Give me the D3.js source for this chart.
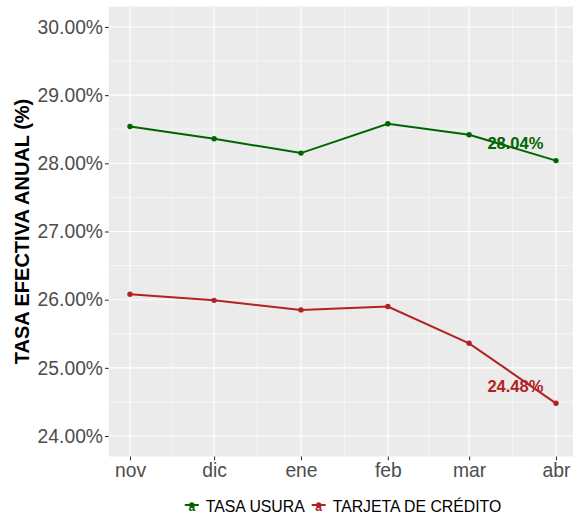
<!DOCTYPE html>
<html><head><meta charset="utf-8">
<script src="https://cdn.jsdelivr.net/npm/d3@7"></script>
<style>html,body{margin:0;padding:0;background:#fff;}svg{display:block;font-family:"Liberation Sans",Arial,sans-serif;}</style>
</head><body>
<svg id="c" width="573" height="518"></svg>
<script>
const months = ["2023-11-01","2023-12-01","2024-01-01","2024-02-01","2024-03-01","2024-04-01"];
const monthLabels = ["nov","dic","ene","feb","mar","abr"];
const tasaUsura = [28.54, 28.36, 28.15, 28.58, 28.42, 28.04];
const tarjetaCredito = [26.08, 25.99, 25.85, 25.90, 25.36, 24.48];
const yTicks = [24, 25, 26, 27, 28, 29, 30];
const seriesNames = ["TASA USURA", "TARJETA DE CRÉDITO"];
const seriesColors = ["#006400", "#B22222"];

const parse = d3.utcParse("%Y-%m-%d");
const dates = months.map(parse);
const svg = d3.select("#c");
const L = 108.7, R = 577.3, T = 6.5, B = 456.5;
const d0 = dates[0], d1 = dates[dates.length-1];
const span = d1 - d0;
const x = d3.scaleUtc().domain([new Date(+d0 - span*0.05), new Date(+d1 + span*0.05)]).range([L, R]);
const y = d3.scaleLinear().domain([23.7, 30.3]).range([B, T]);

svg.append("rect").attr("x", L).attr("y", T).attr("width", R-L).attr("height", B-T).attr("fill", "#EBEBEB");
const g = svg.append("g");
const minorX = d3.pairs(dates).map(([a,b]) => new Date((+a + +b)/2));
const minorY = d3.pairs(yTicks).map(([a,b]) => (a+b)/2);
g.selectAll(".mx").data(minorX).join("line").attr("x1", d=>x(d)).attr("x2", d=>x(d)).attr("y1", T).attr("y2", B).attr("stroke", "#fff").attr("stroke-width", 0.55);
g.selectAll(".my").data(minorY).join("line").attr("y1", d=>y(d)).attr("y2", d=>y(d)).attr("x1", L).attr("x2", R).attr("stroke", "#fff").attr("stroke-width", 0.55);
g.selectAll(".Mx").data(dates).join("line").attr("x1", d=>x(d)).attr("x2", d=>x(d)).attr("y1", T).attr("y2", B).attr("stroke", "#fff").attr("stroke-width", 1.1);
g.selectAll(".My").data(yTicks).join("line").attr("y1", d=>y(d)).attr("y2", d=>y(d)).attr("x1", L).attr("x2", R).attr("stroke", "#fff").attr("stroke-width", 1.1);

const yAxis = d3.axisLeft(y).tickValues(yTicks).tickFormat(d => d3.format(".2f")(d) + "%").tickSize(3.7).tickPadding(2);
const ya = svg.append("g").attr("transform", `translate(${L},0)`).call(yAxis);
const xAxis = d3.axisBottom(x).tickValues(dates).tickFormat((d,i) => monthLabels[i]).tickSize(3.7).tickPadding(3);
const xa = svg.append("g").attr("transform", `translate(0,${B})`).call(xAxis);
[ya, xa].forEach(a => {
  a.select(".domain").remove();
  a.selectAll(".tick line").attr("stroke", "#333333").attr("stroke-width", 1.07);
  a.selectAll(".tick text").attr("fill", "#4D4D4D").style("font-size", "19.3px").style("font-family", '"Liberation Sans",Arial,sans-serif');
});

svg.append("text").attr("transform", `translate(29,${(T+B)/2}) rotate(-90)`).attr("text-anchor", "middle")
  .style("font-size", "20px").style("font-weight", "bold").attr("fill", "#000").text("TASA EFECTIVA ANUAL (%)");

const seriesData = [tasaUsura, tarjetaCredito];
const line = d3.line().x((d,i) => x(dates[i])).y(d => y(d));
seriesData.forEach((vals, s) => {
  svg.append("path").datum(vals).attr("d", line).attr("fill", "none").attr("stroke", seriesColors[s]).attr("stroke-width", 2);
  svg.selectAll(null).data(vals).join("circle").attr("cx", (d,i) => x(dates[i])).attr("cy", d => y(d)).attr("r", 2.7).attr("fill", seriesColors[s]);
  const last = vals[vals.length-1];
  svg.append("text").attr("x", x(new Date(+d1 - 14.5*864e5))).attr("y", y(last + 0.25)).attr("dy", "0.36em")
    .attr("text-anchor", "middle").style("font-size", "16.5px").style("font-weight", "bold").attr("fill", seriesColors[s])
    .text(d3.format(".2f")(last) + "%");
});

const leg = svg.append("g");
const keyW = 14, gap = 7, itemGap = 7;
const tmp = seriesNames.map((n, s) => {
  const gi = leg.append("g");
  gi.append("line").attr("x1", 0).attr("x2", keyW).attr("y1", -1).attr("y2", -1).attr("stroke", seriesColors[s]).attr("stroke-width", 2);
  gi.append("circle").attr("cx", keyW/2).attr("cy", -1).attr("r", 2.7).attr("fill", seriesColors[s]);
  gi.append("text").attr("x", keyW/2).attr("y", 5).attr("text-anchor", "middle").style("font-size", "12px").style("font-weight", "bold").attr("fill", seriesColors[s]).text("a");
  const t = gi.append("text").attr("x", keyW + gap).attr("y", 0).attr("dy", "0.36em").style("font-size", "15.8px").attr("fill", "#000").text(n);
  const w = keyW + gap + t.node().getComputedTextLength();
  return {gi, w};
});
const total = d3.sum(tmp, d => d.w) + itemGap * (tmp.length - 1);
let start = (L + R)/2 - total/2;
tmp.forEach(d => { d.gi.attr("transform", `translate(${start},506)`); start += d.w + itemGap; });
</script>
</body></html>
